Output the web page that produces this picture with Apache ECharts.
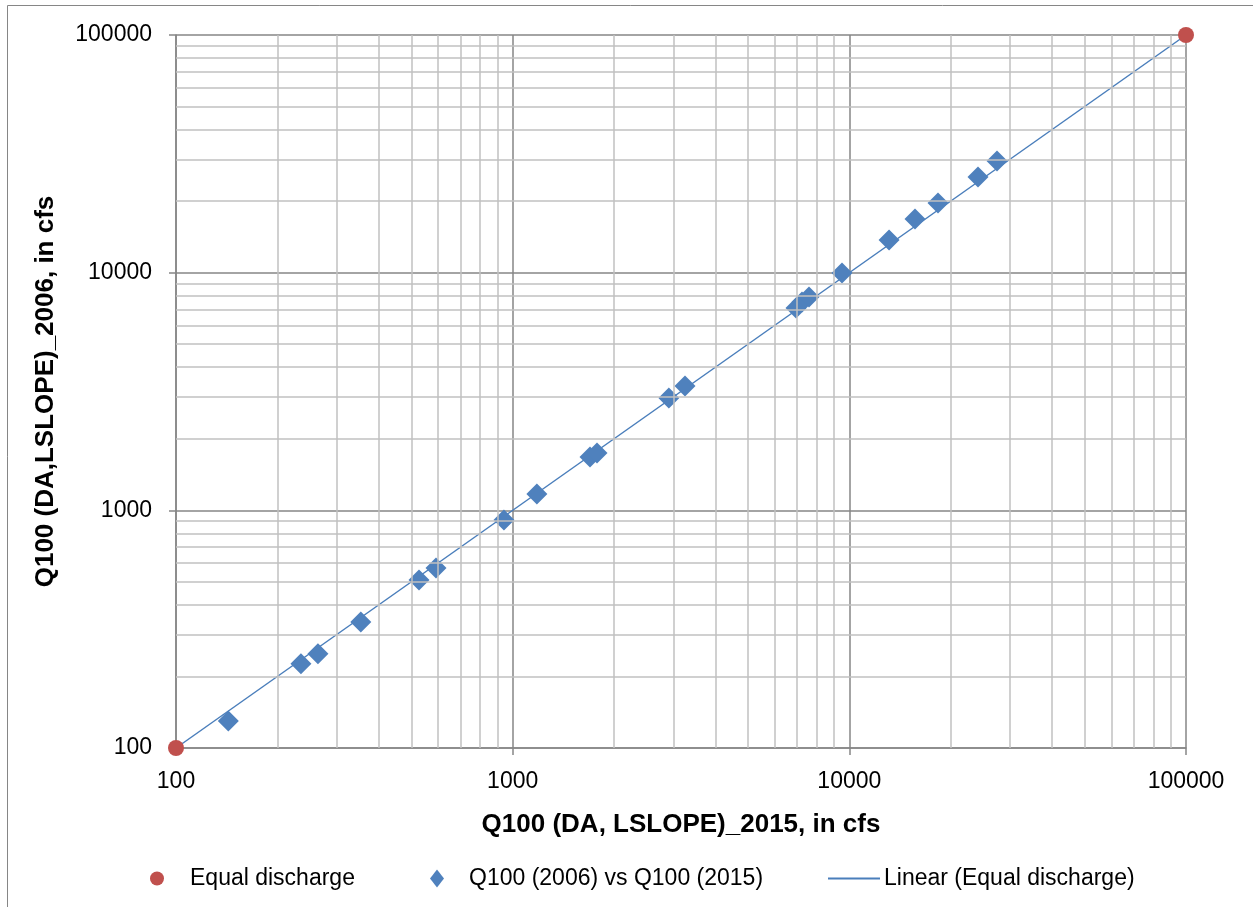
<!DOCTYPE html>
<html>
<head>
<meta charset="utf-8">
<script src="https://cdn.jsdelivr.net/npm/echarts@6/dist/echarts.min.js"></script>
<style>
html,body{margin:0;padding:0;background:#fff;}
#chart{width:1253px;height:907px;}
</style>
</head>
<body>
<div id="chart"></div>
<script>
// Data
const equalDischarge = [[100, 100], [100000, 100000]];
const q2015 = [143, 235, 264, 354, 527, 592, 942, 1180, 1697, 1780, 2910, 3250, 6944, 7236, 7590, 9510, 13120, 15670, 18340, 24110, 27450];
const q2006 = [130, 226, 249, 339, 509, 572, 911, 1172, 1676, 1743, 2970, 3335, 7100, 7530, 7900, 9970, 13720, 16820, 19640, 25270, 29500];
const trendLine = [[100, 100], [100000, 100000]];
const minorValues = [200,300,400,500,600,700,800,900,2000,3000,4000,5000,6000,7000,8000,9000,20000,30000,40000,50000,60000,70000,80000,90000];

const seriesNames = ['Equal discharge', 'Q100 (2006) vs Q100 (2015)', 'Linear (Equal discharge)'];
const xTitle = 'Q100 (DA, LSLOPE)_2015, in cfs';
const yTitle = 'Q100 (DA,LSLOPE)_2006, in cfs';

const FONT = '"Liberation Sans", Arial, sans-serif';
const pairs = q2015.map((x, i) => [x, q2006[i]]);

const minorLines = minorValues.map(v => ({xAxis: v})).concat(minorValues.map(v => ({yAxis: v})));

const chart = echarts.init(document.getElementById('chart'));
const legendText = {fontFamily: FONT, fontSize: 23, color: '#000'};
const legendBase = {top: 862, itemHeight: 14, selectedMode: false};
chart.setOption({
  animation: false,
  backgroundColor: '#fff',
  graphic: [{
    type: 'rect',
    shape: {x: 7.5, y: 5.5, width: 1260, height: 920},
    style: {fill: null, stroke: '#868686', lineWidth: 1},
    silent: true
  }],
  grid: {left: 176, right: 67, top: 35, bottom: 159, containLabel: false},
  legend: [
    Object.assign({}, legendBase, {left: 145, data: [{name: seriesNames[0], icon: 'circle'}], itemWidth: 16,
      textStyle: Object.assign({}, legendText, {padding: [0, 0, 0, 20]})}),
    Object.assign({}, legendBase, {left: 425, data: [{name: seriesNames[1], icon: 'diamond'}], itemWidth: 14, itemHeight: 18,
      textStyle: Object.assign({}, legendText, {padding: [0, 0, 0, 20]})}),
    Object.assign({}, legendBase, {left: 823, data: [{name: seriesNames[2], icon: 'rect'}], itemWidth: 52, itemHeight: 2,
      textStyle: Object.assign({}, legendText, {padding: [0, 0, 0, -1]})})
  ],
  xAxis: {
    type: 'log', logBase: 10, min: 100, max: 100000,
    name: xTitle, nameLocation: 'middle', nameGap: 64,
    nameTextStyle: {fontFamily: FONT, fontSize: 26, fontWeight: 'bold', color: '#000'},
    axisLine: {lineStyle: {color: '#868686', width: 1.5}},
    axisTick: {show: true, inside: false, length: 7, lineStyle: {color: '#868686', width: 1.5}},
    axisLabel: {fontFamily: FONT, fontSize: 23, color: '#000', margin: 22, formatter: v => String(Math.round(v))},
    splitLine: {show: true, lineStyle: {color: '#868686', width: 1.5}},
    minorTick: {show: false}, minorSplitLine: {show: false}
  },
  yAxis: {
    type: 'log', logBase: 10, min: 100, max: 100000,
    name: yTitle, nameLocation: 'middle', nameGap: 117, nameRotate: 90,
    nameTextStyle: {fontFamily: FONT, fontSize: 26, fontWeight: 'bold', color: '#000'},
    axisLine: {show: true, lineStyle: {color: '#868686', width: 1.5}},
    axisTick: {show: true, inside: false, length: 7, lineStyle: {color: '#868686', width: 1.5}},
    axisLabel: {fontFamily: FONT, fontSize: 23, color: '#000', margin: 24, formatter: v => String(Math.round(v))},
    splitLine: {show: true, lineStyle: {color: '#868686', width: 1.5}},
    minorTick: {show: false}, minorSplitLine: {show: false}
  },
  series: [
    {
      name: 'minor-grid', type: 'scatter', data: [], z: 1, silent: true,
      markLine: {
        silent: true, symbol: 'none', animation: false,
        label: {show: false},
        lineStyle: {color: '#c0c0c0', width: 1.5, type: 'solid'},
        data: minorLines
      }
    },
    {
      name: seriesNames[2], type: 'line', data: trendLine, z: 3,
      symbol: 'none', lineStyle: {color: '#4a7ebb', width: 1.5}, itemStyle: {color: '#4a7ebb'}
    },
    {
      name: seriesNames[1], type: 'scatter', data: pairs, z: 4,
      symbol: 'diamond', symbolSize: 21, itemStyle: {color: '#4f81bd', opacity: 1}
    },
    {
      name: seriesNames[0], type: 'scatter', data: equalDischarge, z: 5,
      symbol: 'circle', symbolSize: 16, itemStyle: {color: '#c0504d', opacity: 1}
    }
  ]
});
</script>
</body>
</html>
